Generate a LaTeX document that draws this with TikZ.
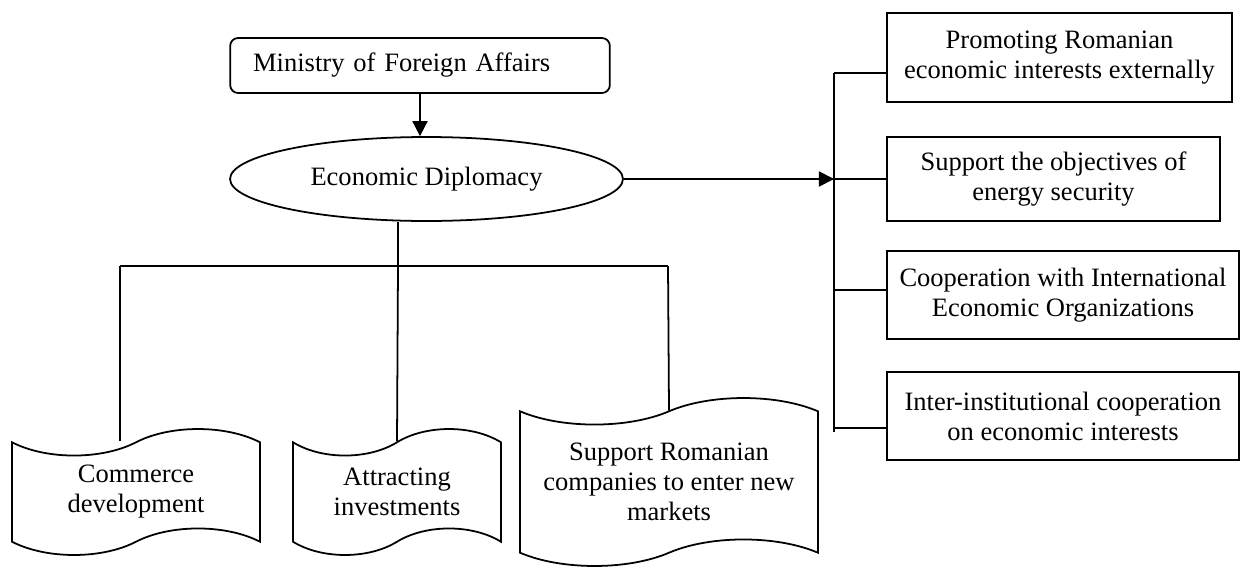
\documentclass[tikz,border=0pt]{standalone}
\usepackage{fontspec}
\setmainfont{Liberation Serif}
\usetikzlibrary{shapes.geometric,shapes.symbols,arrows.meta}

\tikzset{
  every node/.style={font=\fontsize{12}{13.6}\selectfont, align=center, inner sep=0pt},
  box/.style={draw, line width=0.8pt},
  doc/.style={draw, tape, tape bend height=12pt, line width=0.8pt},
}

\begin{document}
\begin{tikzpicture}[x=0.4525pt, y=-0.4525pt, line width=0.8pt,
    >={Triangle[length=6.8pt,width=6.8pt]}]
      \useasboundingbox (0,0) rectangle (1240,567);
      \draw
        (420,65.5) node[box, rounded corners=3.6pt, minimum height=24.9pt,
          text width=151pt, inner xsep=10.4pt, align=left] (mfa){Ministry of Foreign Affairs}
        (426.5,179) node[box, ellipse, minimum width=177.8pt, minimum height=38pt] (ed){Economic Diplomacy}
        (1059.5,57.5) node[box, minimum width=156.1pt, minimum height=40.3pt] (obj1){Promoting Romanian\\economic interests externally}
        (1053.5,179) node[box, minimum width=150.7pt, minimum height=38pt] (obj2){Support the objectives of\\energy security}
        (1063,295) node[box, minimum width=159.3pt, minimum height=39.8pt] (obj3){Cooperation with International\\Economic Organizations}
        (1063,416) node[box, minimum width=159.3pt, minimum height=39.8pt] (obj4){Inter-institutional cooperation\\on economic interests}
        (136,492) node[doc, minimum width=112.2pt, minimum height=57pt] (dir1){Commerce\\development}
        (397,492) node[doc, minimum width=94.1pt, minimum height=57pt] (dir2){Attracting\\investments}
        (669,482) node[doc, minimum width=134.8pt, minimum height=76pt] (dir3){Support Romanian\\companies to enter new\\markets};
      \coordinate (b1) at (834,73);
      \coordinate (b2) at (834,179);
      \coordinate (b3) at (834,290);
      \coordinate (b4) at (834,428);
      \coordinate (bend) at (834,432);
      \coordinate (j) at (398,266);
      \coordinate (jl) at (120,266);
      \coordinate (jr) at (668,266);
      \begin{scope}[-]
        \draw[->] (mfa.south) -- (mfa.south |- ed.north);
        \draw[->] (ed.east) -- (b2);
        \draw (b1) -- (bend);
        \draw (b1) -- (b1 -| obj1.west);
        \draw (b2) -- (obj2.west);
        \draw (b3) -- (b3 -| obj3.west);
        \draw (b4) -- (b4 -| obj4.west);
        \draw (j |- ed.south) -- (j);
        \draw (jl) -- (jr);
        \draw (jl) -- (jl |- dir1.north);
        \draw (j) -- (dir2.north);
        \draw (jr) -- (dir3.north);
      \end{scope}
    \end{tikzpicture}
\end{document}
